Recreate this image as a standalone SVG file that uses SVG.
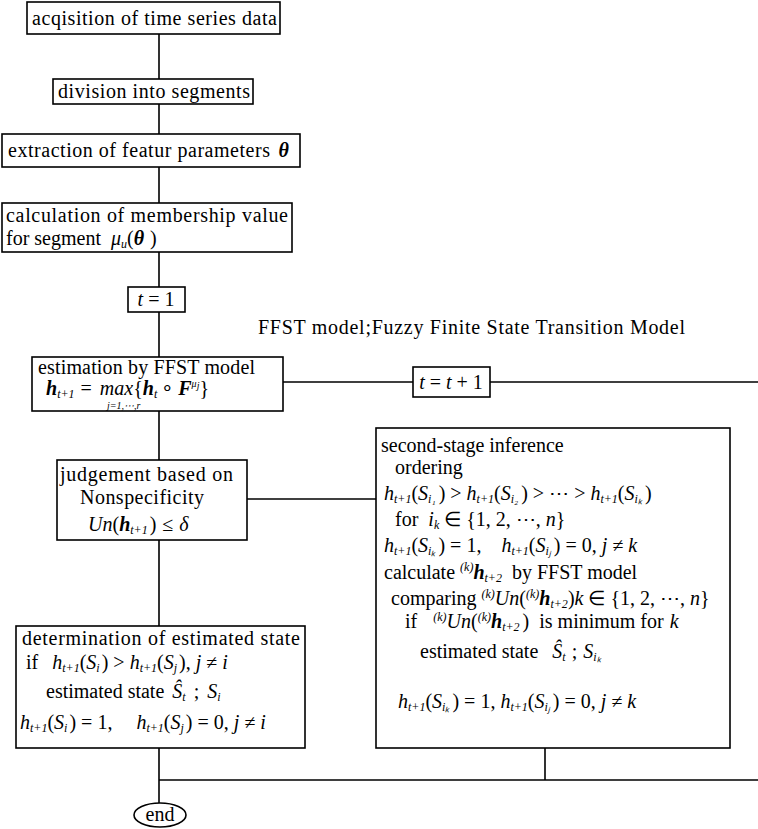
<svg xmlns="http://www.w3.org/2000/svg" width="758" height="829" viewBox="0 0 758 829">
<style>
.box{fill:#fff;stroke:#000;stroke-width:1.6}
.ln{fill:none;stroke:#000;stroke-width:1.6}
text{font-family:"Liberation Serif",serif;font-size:20px;fill:#000}
.i{font-style:italic}
.b{font-style:italic;font-weight:bold}
.s{font-size:12px}
.ss{font-size:10px}
</style>
<rect width="758" height="829" fill="#fff"/>
<g id="connectors">
<path class="ln" d="M159 34V79M159 104V134M159 167V203M159 252V287M159 312V357M159 411V460M159 540V626M159 748V803"/>
<path class="ln" d="M283 382H413M490 382H758"/>
<path class="ln" d="M247 499H376"/>
<path class="ln" d="M545 748V780M159 780H758"/>
</g>
<g id="acquisition">
<rect class="box" x="27" y="2" width="253" height="32"/>
<text x="32" y="25" textLength="245">acqisition of time series data</text>
</g>
<g id="division">
<rect class="box" x="53" y="79" width="200" height="25"/>
<text x="58" y="98" textLength="192">division into segments</text>
</g>
<g id="extraction">
<rect class="box" x="2" y="134" width="298" height="33"/>
<text x="8" y="157"><tspan textLength="262">extraction of featur parameters</tspan><tspan class="b" dx="8">θ</tspan></text>
</g>
<g id="membership">
<rect class="box" x="2" y="203" width="290" height="49"/>
<text x="6" y="222" textLength="282">calculation of membership value</text>
<text x="6" y="245">for segment<tspan class="i" dx="10">μ</tspan><tspan class="s i" dy="3">u</tspan><tspan dy="-3">(</tspan><tspan class="b">θ</tspan><tspan dx="6">)</tspan></text>
</g>
<g id="t1">
<rect class="box" x="128" y="287" width="57" height="25"/>
<text x="156" y="306" text-anchor="middle"><tspan class="i">t</tspan> = 1</text>
</g>
<text x="258" y="334" textLength="427">FFST model;Fuzzy Finite State Transition Model</text>
<g id="estimation">
<rect class="box" x="32" y="357" width="251" height="54"/>
<text x="38" y="374" textLength="217">estimation by FFST model</text>
<text x="46" y="395"><tspan class="b">h</tspan><tspan class="s i" dy="3">t+1</tspan><tspan dy="-3" dx="6">=</tspan><tspan class="i" dx="8">max</tspan><tspan>{</tspan><tspan class="b">h</tspan><tspan class="s i" dy="3">t</tspan><tspan dy="-3" dx="4">∘</tspan><tspan class="b" dx="4">F</tspan><tspan class="ss i" dy="-8">μ</tspan><tspan class="ss i" dy="2">j</tspan><tspan dy="6">}</tspan></text>
<text x="107" y="409" class="ss i">j=1,⋯,r</text>
</g>
<g id="tinc">
<rect class="box" x="413" y="367" width="77" height="30"/>
<text x="451" y="389" text-anchor="middle"><tspan class="i">t</tspan> = <tspan class="i">t</tspan> + 1</text>
</g>
<g id="judgement">
<rect class="box" x="57" y="460" width="190" height="80"/>
<text x="60" y="481" textLength="173">judgement based on</text>
<text x="80" y="504" textLength="124">Nonspecificity</text>
<text x="88" y="531"><tspan class="i">Un</tspan>(<tspan class="b">h</tspan><tspan class="s i" dy="3">t+1</tspan><tspan dy="-3" dx="2">)</tspan><tspan dx="6">≤</tspan><tspan class="i" dx="6">δ</tspan></text>
</g>
<g id="second-stage">
<rect class="box" x="376" y="428" width="354" height="320"/>
<text x="381" y="452">second-stage inference</text>
<text x="395" y="474">ordering</text>
<text x="384" y="500"><tspan class="i">h</tspan><tspan class="s i" dy="3">t+1</tspan><tspan dy="-3">(</tspan><tspan class="i">S</tspan><tspan class="s i" dy="3">i₁</tspan><tspan dy="-3" dx="3">) &gt; </tspan><tspan class="i">h</tspan><tspan class="s i" dy="3">t+1</tspan><tspan dy="-3">(</tspan><tspan class="i">S</tspan><tspan class="s i" dy="3">i₂</tspan><tspan dy="-3" dx="3">) &gt; ⋯ &gt; </tspan><tspan class="i">h</tspan><tspan class="s i" dy="3">t+1</tspan><tspan dy="-3">(</tspan><tspan class="i">S</tspan><tspan class="s i" dy="3">iₖ</tspan><tspan dy="-3" dx="3">)</tspan></text>
<text x="395" y="526">for<tspan class="i" dx="10">i</tspan><tspan class="s i" dy="3">k</tspan><tspan dy="-3"> ∈ {1, 2, ⋯, </tspan><tspan class="i">n</tspan>}</text>
<text x="384" y="552"><tspan class="i">h</tspan><tspan class="s i" dy="3">t+1</tspan><tspan dy="-3">(</tspan><tspan class="i">S</tspan><tspan class="s i" dy="3">iₖ</tspan><tspan dy="-3" dx="3">) = 1,</tspan><tspan class="i" dx="20">h</tspan><tspan class="s i" dy="3">t+1</tspan><tspan dy="-3">(</tspan><tspan class="i">S</tspan><tspan class="s i" dy="3">iⱼ</tspan><tspan dy="-3" dx="3">) = 0, </tspan><tspan class="i">j</tspan> ≠ <tspan class="i">k</tspan></text>
<text x="384" y="579">calculate <tspan class="s i" dy="-8">(k)</tspan><tspan class="b" dy="8">h</tspan><tspan class="s i" dy="3">t+2</tspan><tspan dy="-3" dx="10">by FFST model</tspan></text>
<text x="391" y="605">comparing <tspan class="s i" dy="-7">(k)</tspan><tspan class="i" dy="7">Un</tspan>(<tspan class="s i" dy="-7">(k)</tspan><tspan class="b" dy="7">h</tspan><tspan class="s i" dy="3">t+2</tspan><tspan dy="-3">)</tspan><tspan class="i">k</tspan> ∈ {1, 2, ⋯, <tspan class="i">n</tspan>}</text>
<text x="405" y="628">if<tspan class="s i" dy="-7" dx="16">(k)</tspan><tspan class="i" dy="7">Un</tspan>(<tspan class="s i" dy="-7">(k)</tspan><tspan class="b" dy="7">h</tspan><tspan class="s i" dy="3">t+2</tspan><tspan dy="-3" dx="3">)</tspan><tspan dx="10">is minimum for</tspan><tspan class="i" dx="6">k</tspan></text>
<text x="420" y="658">estimated state<tspan class="i" dx="14">Ŝ</tspan><tspan class="s i" dy="3">t</tspan><tspan dy="-3" dx="6">;</tspan><tspan class="i" dx="6">S</tspan><tspan class="s i" dy="3">iₖ</tspan></text>
<text x="398" y="708"><tspan class="i">h</tspan><tspan class="s i" dy="3">t+1</tspan><tspan dy="-3">(</tspan><tspan class="i">S</tspan><tspan class="s i" dy="3">iₖ</tspan><tspan dy="-3" dx="3">) = 1, </tspan><tspan class="i">h</tspan><tspan class="s i" dy="3">t+1</tspan><tspan dy="-3">(</tspan><tspan class="i">S</tspan><tspan class="s i" dy="3">iⱼ</tspan><tspan dy="-3" dx="3">) = 0, </tspan><tspan class="i">j</tspan> ≠ <tspan class="i">k</tspan></text>
</g>
<g id="determination">
<rect class="box" x="16" y="626" width="289" height="122"/>
<text x="22" y="645" textLength="278">determination of estimated state</text>
<text x="26" y="669">if<tspan class="i" dx="14">h</tspan><tspan class="s i" dy="3">t+1</tspan><tspan dy="-3">(</tspan><tspan class="i">S</tspan><tspan class="s i" dy="3">i</tspan><tspan dy="-3" dx="2">) &gt; </tspan><tspan class="i">h</tspan><tspan class="s i" dy="3">t+1</tspan><tspan dy="-3">(</tspan><tspan class="i">S</tspan><tspan class="s i" dy="3">j</tspan><tspan dy="-3" dx="2">), </tspan><tspan class="i">j</tspan> ≠ <tspan class="i">i</tspan></text>
<text x="46" y="698">estimated state<tspan class="i" dx="8">Ŝ</tspan><tspan class="s i" dy="3">t</tspan><tspan dy="-3" dx="8">;</tspan><tspan class="i" dx="8">S</tspan><tspan class="s i" dy="3">i</tspan></text>
<text x="20" y="729"><tspan class="i">h</tspan><tspan class="s i" dy="3">t+1</tspan><tspan dy="-3">(</tspan><tspan class="i">S</tspan><tspan class="s i" dy="3">i</tspan><tspan dy="-3" dx="2">) = 1,</tspan><tspan class="i" dx="24">h</tspan><tspan class="s i" dy="3">t+1</tspan><tspan dy="-3">(</tspan><tspan class="i">S</tspan><tspan class="s i" dy="3">j</tspan><tspan dy="-3" dx="2">) = 0, </tspan><tspan class="i">j</tspan> ≠ <tspan class="i">i</tspan></text>
</g>
<g id="end">
<ellipse class="box" cx="160" cy="815" rx="26" ry="12"/>
<text x="160" y="821" text-anchor="middle">end</text>
</g>
</svg>
